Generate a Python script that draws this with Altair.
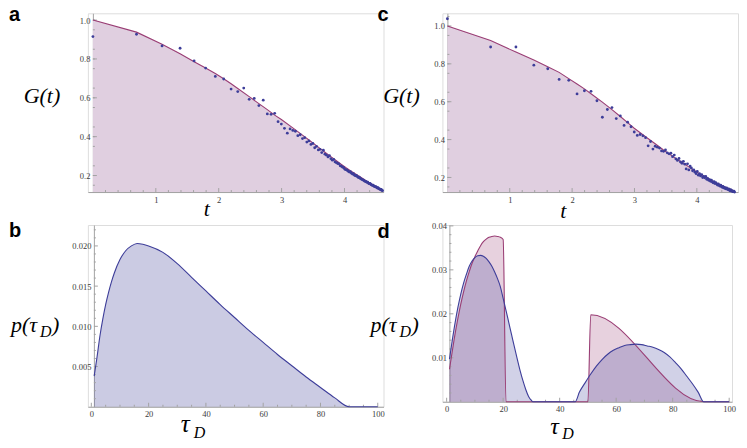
import altair as alt
import pandas as pd

# ---------------- data ----------------
t_vals = [0, 0.693, 1.099, 1.386, 1.609, 1.792, 1.946, 2.079, 2.197, 2.303,
          2.398, 2.485, 2.565, 2.639, 2.708, 2.773, 2.833, 2.890, 2.944, 2.996,
          3.045, 3.091, 3.135, 3.178, 3.219, 3.258, 3.296, 3.332, 3.367, 3.401,
          3.434, 3.466, 3.497, 3.526, 3.555, 3.584, 3.611, 3.638, 3.664, 3.689,
          3.714, 3.738, 3.761, 3.784, 3.807, 3.829, 3.850, 3.871, 3.892, 3.912,
          3.932, 3.951, 3.970, 3.989, 4.007, 4.025, 4.043, 4.060, 4.078, 4.094,
          4.111, 4.127, 4.143, 4.159, 4.174, 4.190, 4.205, 4.220, 4.234, 4.248,
          4.263, 4.277, 4.290, 4.304, 4.317, 4.331, 4.344, 4.357, 4.369, 4.382,
          4.394, 4.407, 4.419, 4.431, 4.443, 4.454, 4.466, 4.477, 4.489, 4.500,
          4.511, 4.522, 4.533, 4.543, 4.554, 4.564, 4.575, 4.585, 4.595, 4.605]

a_points = [0.915, 0.927, 0.867, 0.855, 0.790, 0.753, 0.710, 0.697, 0.645, 0.632,
            0.650, 0.592, 0.597, 0.560, 0.588, 0.517, 0.515, 0.520, 0.477, 0.465,
            0.443, 0.418, 0.440, 0.432, 0.428, 0.405, 0.410, 0.390, 0.395, 0.372,
            0.378, 0.360, 0.365, 0.343, 0.350, 0.332, 0.335, 0.318, 0.330, 0.310,
            0.305, 0.296, 0.302, 0.287, 0.279, 0.283, 0.270, 0.266, 0.262, 0.260,
            0.250, 0.248, 0.243, 0.240, 0.232, 0.230, 0.227, 0.222, 0.218, 0.220,
            0.212, 0.208, 0.210, 0.202, 0.199, 0.200, 0.194, 0.190, 0.192, 0.186,
            0.183, 0.180, 0.178, 0.176, 0.172, 0.170, 0.168, 0.165, 0.166, 0.160,
            0.158, 0.159, 0.154, 0.152, 0.149, 0.150, 0.146, 0.144, 0.142, 0.143,
            0.138, 0.136, 0.137, 0.133, 0.131, 0.130, 0.127, 0.128, 0.124, 0.122]

c_points = [1.038, 0.889, 0.889, 0.793, 0.774, 0.718, 0.713, 0.641, 0.658, 0.655,
            0.605, 0.518, 0.559, 0.569, 0.511, 0.525, 0.475, 0.492, 0.468, 0.440,
            0.422, 0.427, 0.420, 0.410, 0.367, 0.390, 0.350, 0.365, 0.360, 0.355,
            0.340, 0.338, 0.345, 0.330, 0.325, 0.328, 0.310, 0.318, 0.298, 0.290,
            0.300, 0.282, 0.275, 0.285, 0.270, 0.245, 0.272, 0.240, 0.260, 0.250,
            0.235, 0.240, 0.228, 0.220, 0.232, 0.212, 0.220, 0.208, 0.215, 0.200,
            0.205, 0.198, 0.205, 0.190, 0.195, 0.185, 0.188, 0.180, 0.186, 0.176,
            0.172, 0.178, 0.168, 0.172, 0.165, 0.160, 0.166, 0.158, 0.155, 0.160,
            0.152, 0.148, 0.153, 0.145, 0.148, 0.142, 0.140, 0.145, 0.138, 0.136,
            0.140, 0.133, 0.130, 0.135, 0.128, 0.130, 0.126, 0.125, 0.128, 0.123]

fit_t = [0, 0.693, 1.099, 1.386, 1.609, 1.792, 1.946, 2.079, 2.197, 2.303,
         2.485, 2.639, 2.773, 2.890, 2.996, 3.178, 3.332, 3.466, 3.584, 3.689,
         3.784, 3.871, 3.951, 4.025, 4.094, 4.159, 4.220, 4.277, 4.331, 4.382,
         4.431, 4.477, 4.522, 4.564, 4.605]
a_fit = [1.0, 0.938, 0.876, 0.827, 0.786, 0.753, 0.725, 0.698, 0.672, 0.648,
         0.606, 0.570, 0.539, 0.511, 0.488, 0.445, 0.408, 0.375, 0.346, 0.320,
         0.297, 0.276, 0.257, 0.240, 0.225, 0.212, 0.199, 0.187, 0.176, 0.166,
         0.156, 0.147, 0.139, 0.131, 0.124]
c_fit = [1.0, 0.923, 0.862, 0.820, 0.785, 0.755, 0.722, 0.694, 0.668, 0.642,
         0.598, 0.558, 0.522, 0.490, 0.460, 0.415, 0.378, 0.345, 0.318, 0.295,
         0.275, 0.256, 0.239, 0.224, 0.211, 0.199, 0.188, 0.178, 0.169, 0.161,
         0.153, 0.146, 0.140, 0.134, 0.128]

b_tau = [1, 2, 3, 4, 5, 6, 7, 8, 10, 12, 14, 16, 18, 20, 25, 30, 35, 40, 45, 50,
         55, 60, 65, 70, 75, 80, 85, 90, 100]
b_p = [0.0038, 0.0062, 0.0088, 0.0109, 0.0127, 0.0142, 0.0155, 0.0166, 0.0183, 0.0194,
       0.0200, 0.0203, 0.0202, 0.0200, 0.0192, 0.0178, 0.0161, 0.0144, 0.0127, 0.0111,
       0.0095, 0.0080, 0.0065, 0.0051, 0.0037, 0.0024, 0.0011, 0.0, 0.0]

d_red_tau = [1, 2, 3, 4, 5, 6, 7, 8, 9, 10, 11, 12, 13, 14, 15, 16, 17, 18, 19, 20,
             21, 50, 51, 91, 100]
d_red_p = [0.0074, 0.0115, 0.0155, 0.0190, 0.0222, 0.0250, 0.0275, 0.0296, 0.0315, 0.0330,
           0.0343, 0.0355, 0.0364, 0.0370, 0.0374, 0.0376, 0.0377, 0.0376, 0.0374, 0.0369,
           0.0, 0.0, 0.0198, 0.0, 0.0]

d_blue_tau = [1, 2, 3, 4, 5, 6, 7, 8, 9, 10, 11, 12, 13, 14, 15, 16, 17, 18, 19, 20,
              21, 22, 23, 24, 25, 26, 27, 28, 29, 30, 30.5, 45.5, 47, 49, 51, 53, 55, 57,
              59, 61, 63, 65, 67, 69, 71, 73, 75, 77, 79, 81, 83, 85, 87, 89, 91, 100]
d_blue_p = [0.0097, 0.0140, 0.0180, 0.0215, 0.0245, 0.0270, 0.0290, 0.0308, 0.0320, 0.0328,
            0.0332, 0.0333, 0.0331, 0.0326, 0.0318, 0.0308, 0.0295, 0.0280, 0.0262, 0.0235,
            0.0208, 0.0180, 0.0152, 0.0124, 0.0097, 0.0071, 0.0048, 0.0028, 0.0012, 0.0003,
            0.0, 0.0, 0.0022, 0.0043, 0.0063, 0.0081, 0.0096, 0.0108,
            0.0117, 0.0123, 0.0128, 0.0130, 0.0131, 0.0130, 0.0127, 0.0124, 0.0119, 0.0112,
            0.0102, 0.0089, 0.0075, 0.0058, 0.0041, 0.0022, 0.0, 0.0]

# tick positions
a_xmaj = [1, 2, 3, 4]
a_xmin = [round(i * 0.2, 1) for i in range(1, 24) if i % 5]
a_ymaj = [0.2, 0.4, 0.6, 0.8, 1.0]
a_ymin = [round(0.15 + i * 0.05, 2) for i in range(18) if (i + 1) % 4]
c_ymin = [round(0.15 + i * 0.05, 2) for i in range(19) if (i + 1) % 4]
b_xmaj = [0, 20, 40, 60, 80, 100]
b_xmin = [i * 5 for i in range(1, 21) if i % 4]
b_ymaj = [0.005, 0.010, 0.015, 0.020]
b_ymin = [round(i * 0.001, 3) for i in range(1, 23) if i % 5]
d_ymaj = [0.01, 0.02, 0.03, 0.04]
d_ymin = [round(i * 0.002, 3) for i in range(1, 20) if i % 5]

# ---------------- style ----------------
AX = "#a3a3a3"
LBL = "#3a3a3a"
SERIF = "Liberation Serif"
SANS = "Liberation Sans"
MAROON = "#993d74"
BLUE = "#3d3d99"
FILL_AC = "#e0cfe0"

one = pd.DataFrame({"k": [0]})


def label(txt, x, y, size=22, italic=True, font=SERIF, weight="normal", align="left"):
    return alt.Chart(one).mark_text(
        text=txt, font=font, fontSize=size,
        fontStyle="italic" if italic else "normal", fontWeight=weight,
        align=align, baseline="alphabetic", color="black",
    ).encode(x=alt.value(x), y=alt.value(y))


def xenc(domain, values, fmt):
    return alt.X("x:Q", scale=alt.Scale(domain=domain, nice=False, zero=False),
                 axis=alt.Axis(values=values, format=fmt, title=None, ticks=False, grid=False,
                               domainColor=AX, domainWidth=1, labelFont=SERIF, labelFontSize=8.5,
                               labelColor=LBL, labelPadding=3, labelFlush=False,
                               labelOverlap=False))


def yenc(domain, values, fmt, offset):
    return alt.Y("y:Q", scale=alt.Scale(domain=domain, nice=False, zero=False),
                 axis=alt.Axis(values=values, format=fmt, title=None, ticks=False, grid=False,
                               domainColor=AX, domainWidth=1, labelFont=SERIF, labelFontSize=8.5,
                               labelColor=LBL, labelPadding=3, offset=offset,
                               labelFlush=False, labelOverlap=False))


def ticks(X, Y, H, axpx, xmaj, xmin, ymaj, ymin):
    out = []
    for vals, ln in ((xmaj, 4), (xmin, 2)):
        out.append(alt.Chart(pd.DataFrame({"x": vals})).mark_rule(color=AX, strokeWidth=1)
                   .encode(x=X, y=alt.value(H), y2=alt.value(H - ln)))
    for vals, ln in ((ymaj, 4), (ymin, 2)):
        out.append(alt.Chart(pd.DataFrame({"y": vals})).mark_rule(color=AX, strokeWidth=1)
                   .encode(y=Y, x=alt.value(axpx), x2=alt.value(axpx + ln)))
    return out


# ---------------- panel a ----------------
WA, HA = 296, 179
Xa = xenc([-0.08, 4.62], a_xmaj, "d")
Ya = yenc([0.115, 1.035], a_ymaj, ".1f", -5)
fit_a = pd.DataFrame({"x": fit_t, "y": a_fit})
pts_a = pd.DataFrame({"x": t_vals, "y": a_points})
panel_a = alt.layer(
    alt.Chart(fit_a).mark_area(color=FILL_AC, opacity=1, clip=True).encode(x=Xa, y=Ya, y2=alt.value(HA)),
    *ticks(Xa, Ya, HA, 5, a_xmaj, a_xmin, a_ymaj, a_ymin),
    alt.Chart(fit_a).mark_line(color=MAROON, strokeWidth=1.1, clip=True).encode(x=Xa, y=Ya),
    alt.Chart(pts_a).mark_circle(color=BLUE, size=8, opacity=1).encode(x=Xa, y=Ya),
    label("a", -79, 8, size=20, italic=False, font=SANS, weight="bold"),
    label("G(t)", -46, 90, align="center"),
    label("t", 119, 203, size=22, align="center"),
).properties(width=WA, height=HA)

# ---------------- panel c ----------------
WC, HC = 296, 179
Xc = xenc([-0.08, 4.66], a_xmaj, "d")
Yc = yenc([0.123, 1.067], a_ymaj, ".1f", -5)
fit_c = pd.DataFrame({"x": fit_t, "y": c_fit})
pts_c = pd.DataFrame({"x": t_vals, "y": c_points})
panel_c = alt.layer(
    alt.Chart(fit_c).mark_area(color=FILL_AC, opacity=1, clip=True).encode(x=Xc, y=Yc, y2=alt.value(HC)),
    *ticks(Xc, Yc, HC, 5, a_xmaj, a_xmin, a_ymaj, c_ymin),
    alt.Chart(fit_c).mark_line(color=MAROON, strokeWidth=1.1, clip=True).encode(x=Xc, y=Yc),
    alt.Chart(pts_c).mark_circle(color=BLUE, size=8, opacity=1).encode(x=Xc, y=Yc),
    label("c", -65, 8, size=20, italic=False, font=SANS, weight="bold"),
    label("G(t)", -41, 90, align="center"),
    label("t", 121, 205, size=22, align="center"),
).properties(width=WC, height=HC)

# ---------------- panel b ----------------
WB, HB = 296, 182
Xb = xenc([-1.2, 102], b_xmaj, "d")
Yb = yenc([0, 0.0226], b_ymaj, ".3f", -6)
dist_b = pd.DataFrame({"x": b_tau, "y": b_p})
panel_b = alt.layer(
    alt.Chart(dist_b).mark_area(color=BLUE, opacity=0.27, interpolate="monotone").encode(x=Xb, y=Yb, y2=alt.value(HB)),
    *ticks(Xb, Yb, HB, 6, b_xmaj, b_xmin, b_ymaj, b_ymin),
    alt.Chart(dist_b).mark_line(color=BLUE, strokeWidth=1.1, interpolate="monotone").encode(x=Xb, y=Yb),
    label("b", -79, 12, size=20, italic=False, font=SANS, weight="bold"),
    label("p(τ", -77, 107),
    label("D", -48, 112, size=16),
    label(")", -36, 107),
    label("τ", 93, 207, size=25),
    label("D", 106, 213, size=16),
).properties(width=WB, height=HB)

# ---------------- panel d ----------------
WD, HD = 290, 177
Xd = xenc([-1.5, 101], b_xmaj, "d")
Yd = yenc([0, 0.0402], d_ymaj, ".2f", -7)
red_d = pd.DataFrame({"x": d_red_tau, "y": d_red_p})
blue_d = pd.DataFrame({"x": d_blue_tau, "y": d_blue_p})
panel_d = alt.layer(
    alt.Chart(red_d).mark_area(color=MAROON, opacity=0.24, interpolate="monotone").encode(x=Xd, y=Yd, y2=alt.value(HD)),
    alt.Chart(blue_d).mark_area(color=BLUE, opacity=0.24, interpolate="monotone").encode(x=Xd, y=Yd, y2=alt.value(HD)),
    *ticks(Xd, Yd, HD, 7, b_xmaj, b_xmin, d_ymaj, d_ymin),
    alt.Chart(red_d).mark_line(color=MAROON, strokeWidth=1.1, interpolate="monotone").encode(x=Xd, y=Yd),
    alt.Chart(blue_d).mark_line(color=BLUE, strokeWidth=1.1, interpolate="monotone").encode(x=Xd, y=Yd),
    label("d", -65, 13, size=20, italic=False, font=SANS, weight="bold"),
    label("p(τ", -72, 107),
    label("D", -43, 112, size=16),
    label(")", -31, 107),
    label("τ", 108, 209, size=24),
    label("D", 120, 214, size=16),
).properties(width=WD, height=HD)

chart = alt.concat(
    panel_a, panel_c, panel_b, panel_d, columns=2,
    spacing={"row": 33, "column": 59}, bounds="flush",
).properties(
    padding={"left": 0, "top": -4, "right": 0, "bottom": 0}
).configure_view(stroke=None).configure(background="white")

chart.save("out.html", embed_options={"renderer": "svg", "actions": False})
